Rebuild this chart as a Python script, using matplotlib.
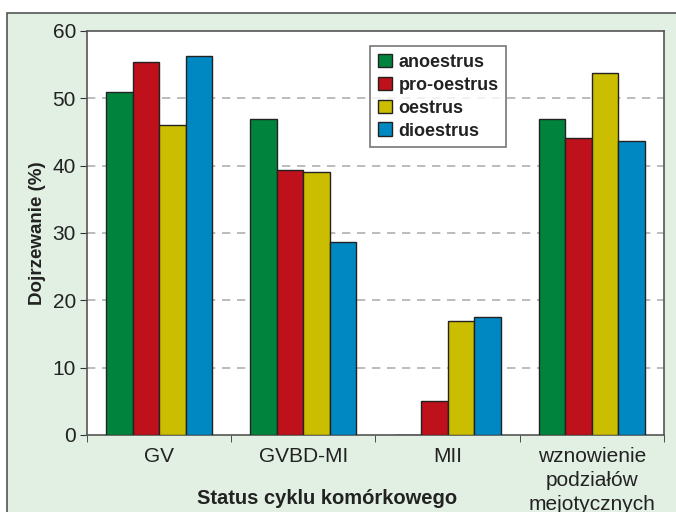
import numpy as np
import matplotlib.pyplot as plt
from matplotlib.patches import Rectangle

plt.rcParams['font.family'] = ['Liberation Sans', 'DejaVu Sans']

categories = ['GV', 'GVBD-MI', 'MII', 'wznowienie\npodziałów\nmejotycznych']
series = ['anoestrus', 'pro-oestrus', 'oestrus', 'dioestrus']
anoestrus = [51.0, 47.0, 0.0, 47.0]
pro_oestrus = [55.4, 39.3, 5.0, 44.1]
oestrus = [46.0, 39.0, 17.0, 53.8]
dioestrus = [56.3, 28.7, 17.5, 43.7]
values = [anoestrus, pro_oestrus, oestrus, dioestrus]
colors = ['#00843d', '#be111b', '#cbbd00', '#0088c2']

W, H = 676, 512
fig = plt.figure(figsize=(W / 100, H / 100), dpi=100)
fig.patch.set_facecolor('white')
# green frame behind the chart
fig.patches.append(Rectangle((7 / W, -0.05), 1.0, 1 - 13 / H + 0.05, transform=fig.transFigure,
                             facecolor='#e2f0e4', edgecolor='#555555', lw=1.2, zorder=-5))

ax = fig.add_axes([87 / W, 1 - 435 / H, (664 - 87) / W, (435 - 31) / H])
ax.set_facecolor('white')

x = np.arange(len(categories))
bw = 0.184
for i, (name, vals, c) in enumerate(zip(series, values, colors)):
    ax.bar(x + (i - 1.5) * bw, vals, bw, color=c, edgecolor='#222222', lw=1.0,
           label=name, zorder=3)

ax.set_xlim(-0.5, len(categories) - 0.5)
ax.set_ylim(0, 60)
ax.set_yticks(range(0, 61, 10))
for yv in range(10, 60, 10):
    ax.axhline(yv, color='#b0b0b0', lw=1.2, ls=(0, (5, 4)), zorder=1)

ax.set_xticks(x)
ax.set_xticklabels(categories, fontsize=15, color='#222222', linespacing=1.3)
ax.set_xticks(np.arange(-0.5, len(categories), 1), minor=True)
ax.tick_params(axis='x', which='major', length=0, pad=9)
ax.tick_params(axis='x', which='minor', length=5, direction='out', color='#333333')
ax.tick_params(axis='y', length=5, direction='out', color='#333333', labelsize=15,
               labelcolor='#222222', pad=3)

for s in ax.spines.values():
    s.set_color('#555555')
    s.set_linewidth(1.2)

ax.set_ylabel('Dojrzewanie (%)', fontsize=13.5, fontweight='bold',
              color='#222222', labelpad=5)
fig.text(327 / W, 1 - 499 / H, 'Status cyklu komórkowego', fontsize=14.5, fontweight='bold',
         color='#222222', ha='center', va='center')

leg = ax.legend(loc='upper left', bbox_to_anchor=((370 - 87) / (664 - 87), (435 - 46) / 404),
                prop={'weight': 'bold', 'size': 13},
                frameon=True, fancybox=False, edgecolor='#555555', handlelength=0.8,
                handleheight=0.8, handletextpad=0.35, labelspacing=0.32, borderpad=0.42,
                borderaxespad=0)
leg.get_frame().set_linewidth(1.2)
for t in leg.get_texts():
    t.set_color('#222222')

fig.savefig('out.png', dpi=100, facecolor=fig.get_facecolor())
